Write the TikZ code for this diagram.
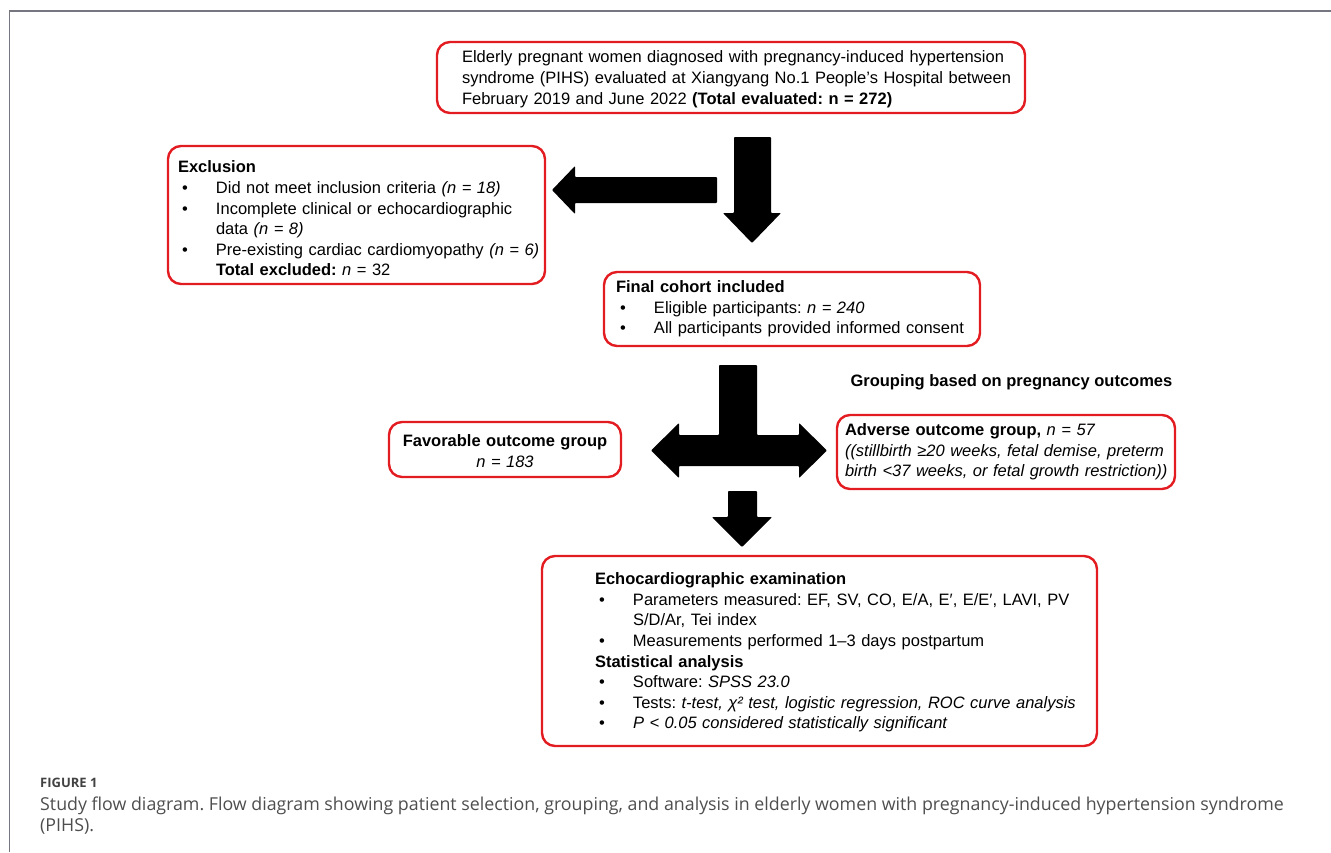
\documentclass[tikz,border=0pt]{standalone}
\usepackage{fontspec}
\setmainfont{Liberation Sans}
\newfontfamily\capfont{Open Sans}
\usetikzlibrary{positioning}
\definecolor{boxred}{RGB}{226,28,33}
\definecolor{framegray}{RGB}{118,118,128}
\definecolor{capgray}{RGB}{78,78,78}
\frenchspacing

% bullet line and continuation line
\newcommand{\blt}[1]{\hspace*{4pt}\makebox[34pt][l]{\textbullet}\mbox{#1}}
\newcommand{\cnt}[1]{\hspace*{38pt}\mbox{#1}}

\begin{document}
\begin{tikzpicture}[x=1pt, y=-1pt,
    box/.style={draw=boxred, line width=2.4pt, rounded corners=13pt,
      inner xsep=0pt, inner ysep=2pt, minimum width=#1, text width=#1,
      align=left},
    pad/.style={execute at begin node={\leftskip=#1\relax}},
    lower/.style={execute at begin node={\rule{0pt}{#1}}},
    blockarrow/.style={fill=black, rounded corners=0.8pt},
    every node/.style={font=\fontsize{16.5}{20.6}\selectfont}]
  \useasboundingbox (0,0) rectangle (1331,852);
  \draw[framegray, line width=1.5pt] (9.5,852) -- (9.5,11) -- (1331,11);

  % boxes
  \node[box=588pt, pad=25pt, lower=15pt, minimum height=71pt,
    font=\fontsize{16.5}{21}\selectfont] (evaluated) at (731,77.5)
    {\mbox{Elderly pregnant women diagnosed with pregnancy-induced hypertension}\\
     \mbox{syndrome (PIHS) evaluated at Xiangyang No.1 People's Hospital between}\\
     \mbox{February 2019 and June 2022 \textbf{(Total evaluated: n = 272)}}};
  \node[box=377pt, pad=10pt, lower=19pt, minimum height=138pt] (excluded) at (356.5,215)
    {\textbf{Exclusion}\\
     \blt{Did not meet inclusion criteria \textit{(n = 18)}}\\
     \blt{Incomplete clinical or echocardiographic}\\
     \cnt{data \textit{(n = 8)}}\\
     \blt{Pre-existing cardiac cardiomyopathy \textit{(n = 6)}}\\
     \cnt{\textbf{Total excluded:} \textit{n} = 32}};
  \node[box=376pt, pad=12pt, minimum height=74pt] (cohort) at (792,309)
    {\textbf{Final cohort included}\\
     \blt{Eligible participants: \textit{n = 240}}\\
     \blt{All participants provided informed consent}};
  \node[anchor=west, font=\fontsize{16.5}{20.6}\selectfont\bfseries] (grouping) at (847,382)
    {Grouping based on pregnancy outcomes};
  \node[box=232pt, align=center, lower=15pt, minimum height=55pt] (favorable) at (505,449.5)
    {\textbf{Favorable outcome group}\\ \textit{n = 183}};
  \node[box=338pt, pad=8pt, minimum height=74pt] (adverse) at (1006,452)
    {\mbox{\textbf{Adverse outcome group,} \textit{n = 57}}\\
     \mbox{\textit{((stillbirth ≥20 weeks, fetal demise, preterm}}\\
     \mbox{\textit{birth <37 weeks, or fetal growth restriction))}}};
  \node[box=555pt, pad=53pt, lower=15pt, minimum height=190pt] (echo) at (819.5,651)
    {\textbf{Echocardiographic examination}\\
     \blt{Parameters measured: EF, SV, CO, E/A, E′, E/E′, LAVI, PV}\\
     \cnt{S/D/Ar, Tei index}\\
     \blt{Measurements performed 1–3 days postpartum}\\
     \textbf{Statistical analysis}\\
     \blt{Software: \textit{SPSS 23.0}}\\
     \blt{Tests: \textit{t-test, χ² test, logistic regression, ROC curve analysis}}\\
     \blt{\textit{P < 0.05 considered statistically significant}}};

  % block arrows
  \fill[blockarrow] (717,177) -- (575,177) -- (575,166) -- (552,190)
    -- (575,214) -- (575,203) -- (717,203) -- cycle;
  \fill[blockarrow] (734,137) -- (771,137) -- (771,213) -- (781,213)
    -- (752,243) -- (723,213) -- (734,213) -- cycle;
  \fill[blockarrow] (719,365) -- (757,365) -- (757,435) -- (799,435)
    -- (799,423) -- (827,450.5) -- (799,478) -- (799,466) -- (679,466)
    -- (679,478) -- (651,450.5) -- (679,423) -- (679,435) -- (719,435) -- cycle;
  \fill[blockarrow] (728,491) -- (757,491) -- (757,517) -- (772,517)
    -- (742,547) -- (712,517) -- (728,517) -- cycle;

  % caption
  \node[anchor=base west, inner sep=0pt, text=capgray!85!black,
    font=\capfont\bfseries\fontsize{13}{15}\selectfont] (figlabel) at (40,787) {FIGURE 1};
  \node[anchor=north west, inner sep=0pt, align=left, text=capgray,
    font=\capfont\fontsize{17.8}{21}\selectfont] (caption) at (40,796.5)
    {Study flow diagram. Flow diagram showing patient selection, grouping, and analysis in elderly women with pregnancy-induced hypertension syndrome\\(PIHS).};
\end{tikzpicture}
\end{document}
